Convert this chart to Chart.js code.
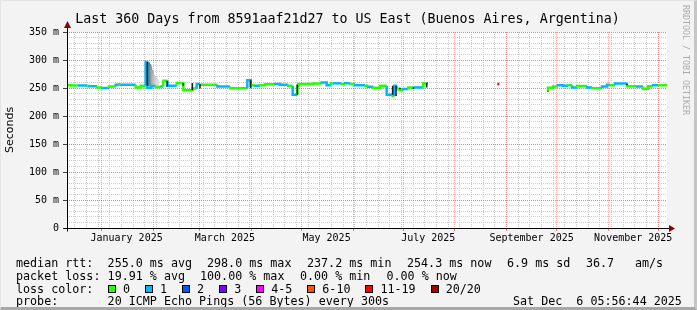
<!DOCTYPE html>
<html><head><meta charset="utf-8">
<script src="https://cdn.jsdelivr.net/npm/chart.js@4.4.1/dist/chart.umd.min.js"></script>
<style>
html,body{margin:0;padding:0;background:#f3f3f3;}
#wrap{position:relative;width:697px;height:310px;background:#f3f3f3;overflow:hidden;}
#frame{position:absolute;left:0;top:0;width:697px;height:310px;box-sizing:border-box;border-right:3px solid #c6c6c6;border-bottom:3px solid #a8a8a8;border-left:1px solid #e4e4e4;border-top:1px solid #e4e4e4;pointer-events:none;}
canvas{position:absolute;left:0;top:0;}
.mono{position:absolute;font-family:'DejaVu Sans Mono',monospace;color:#000;white-space:pre;}
#title{left:-1px;top:11px;width:697px;text-align:center;font-size:13.3px;line-height:16px;}
.leg{font-size:11.7px;line-height:14px;}
#rrd{position:absolute;left:681px;top:5px;writing-mode:vertical-rl;font-family:'DejaVu Sans Mono',monospace;font-size:8.3px;line-height:10px;color:#ababab;white-space:pre;}
#lossrow{position:absolute;left:108px;top:282.2px;display:flex;align-items:center;height:14px;font-family:'DejaVu Sans Mono',monospace;font-size:11.7px;line-height:14px;color:#000;white-space:pre;}
.sw{display:inline-block;width:6px;height:6px;border:1px solid #000;margin-right:7px;}
.lb{margin-right:15px;}
</style>
</head>
<body>
<div id="wrap">
<canvas id="c" width="697" height="310"></canvas>
<div id="title" class="mono">Last 360 Days from 8591aaf21d27 to US East (Buenos Aires, Argentina)</div>
<div id="rrd">RRDTOOL / TOBI OETIKER</div>
<div class="mono leg" style="left:16px;top:256.2px">median rtt:</div>
<div class="mono leg" style="left:107.6px;top:256.2px">255.0 ms avg</div>
<div class="mono leg" style="left:207px;top:256.2px">298.0 ms max</div>
<div class="mono leg" style="left:307px;top:256.2px">237.2 ms min</div>
<div class="mono leg" style="left:407px;top:256.2px">254.3 ms now</div>
<div class="mono leg" style="left:507px;top:256.2px">6.9 ms sd</div>
<div class="mono leg" style="left:586px;top:256.2px">36.7</div>
<div class="mono leg" style="left:635px;top:256.2px">am/s</div>
<div class="mono leg" style="left:16px;top:269.2px">packet loss:</div>
<div class="mono leg" style="left:107.6px;top:269.2px">19.91 % avg</div>
<div class="mono leg" style="left:200px;top:269.2px">100.00 % max</div>
<div class="mono leg" style="left:300px;top:269.2px">0.00 % min</div>
<div class="mono leg" style="left:386.5px;top:269.2px">0.00 % now</div>
<div class="mono leg" style="left:16px;top:282.2px">loss color:</div>
<div id="lossrow"></div>
<div class="mono leg" style="left:16px;top:294.4px">probe:</div>
<div class="mono leg" style="left:107.6px;top:294.4px">20 ICMP Echo Pings (56 Bytes) every 300s</div>
<div class="mono leg" style="left:513px;top:294.4px">Sat Dec  6 05:56:44 2025</div>
<div id="frame"></div>
</div>
<script>
// ---- data (x = days since start of the 360-day window, Dec 11 2024 05:56) ----
const monthLabels = ['January 2025','March 2025','May 2025','July 2025','September 2025','November 2025'];
const monthLabelDays = [35.75, 94.75, 155.75, 216.75, 278.75, 339.75];
const monthStartDays = [20.75, 51.75, 79.75, 110.75, 140.75, 171.75, 201.75, 232.75, 263.75, 293.75, 324.75, 354.75];
const firstMondayDay = 4.75;
const yTickValues = [0, 50, 100, 150, 200, 250, 300, 350];
const yTickLabels = ['0', '50 m', '100 m', '150 m', '200 m', '250 m', '300 m', '350 m'];

const lossColors = ['#26ff00', '#00b8ff', '#0059ff', '#7e00ff', '#ff00ff', '#ff5500', '#ff0000', '#a10000'];
const lossLabels = ['0', '1', '2', '3', '4-5', '6-10', '11-19', '20/20'];

// median RTT (ms), step starts
const dayX = [0, 2.6, 6.2, 12.2, 13.2, 18.2, 21.2, 25.2, 29.2, 31.2, 32.2, 41.2, 44.2, 47.2, 48.2, 50.6, 53.2, 56.8, 57.8, 60.2, 60.8, 65.8, 69.8, 75.2, 77.8, 79.8, 90.2, 97.8, 102.8, 108.2, 110.2, 110.8, 112.8, 115.8, 118.8, 124.8, 127.8, 132.8, 135.4, 138.2, 138.8, 147.8, 152.8, 155.8, 158.4, 159.2, 164.8, 166.8, 169.8, 172.8, 176.8, 178.8, 180.8, 183.8, 187.8, 191.8, 195.4, 196.4, 197.4, 198.8, 199.8, 201.8, 204.8, 207.8, 213.8, 215.8, 216.6, 217.2, 258.2, 259.4, 259.8, 288.6, 291.6, 294.6, 297.6, 300.6, 303, 306, 312, 315, 321, 324, 325.8, 328.8, 336, 342, 345.6, 348.6, 351.6, 354.6, 360];
const rttMs = [258, 255, 254.5, 254.5, 254, 253, 251, 250, 252.5, 256, 256.5, 256, 251, 254, 296.5, 250.5, 253.5, 252, 252.5, 263, 254, 254, 259, 246, 249, 257, 256, 252.5, 249.5, 249.5, 264, 254, 255, 254, 255, 256.5, 257, 256, 254, 238, 254, 257, 258, 260, 255, 258.3, 258.3, 257, 258.5, 257, 255, 255, 254, 252.4, 250.6, 254, 238, 235.7, 254, 250.6, 247.6, 246.4, 248, 251, 251, 258.3, 258.3, null, 257, 257, null, 245, 250.5, 252.7, 255, 254, 255, 251, 253.6, 251, 249.4, 252.7, 256, 255, 258, 253, 252.7, 248.8, 253, 255, 255];
const lossIdx = [0, 0, 1, 0, 1, 0, 1, 0, 1, 0, 1, 0, 0, 1, 1, 1, 0, 1, 0, 1, 1, 0, 0, 0, 1, 0, 1, 0, 0, 1, 1, 0, 1, 0, 0, 1, 1, 0, 1, 0, 0, 0, 1, 1, 0, 1, 0, 1, 0, 1, 1, 0, 1, 0, 0, 1, 0, 1, 1, 0, 0, 1, 0, 1, 0, 4, 4, 0, 6, 6, 0, 0, 0, 1, 1, 0, 1, 0, 1, 0, 1, 1, 0, 1, 0, 1, 0, 0, 1, 0, 0];

// dark smoke spikes (ms range)
const spikeDays = [48.2, 60.2, 69.8, 75.2, 79.8, 110.2, 138.2, 195.4, 197.4, 199.8, 207.8, 215.8, 288.6, 336];
const spikeLow  = [254, 252.5, 254, 246, 249, 249.5, 238, 238, 235.7, 247.6, 248, 251, 243.5, 255];
const spikeHigh = [296.5, 263, 259, 259, 257, 264, 256, 254, 254, 250.6, 251, 258.3, 245, 258];

// grey smoke around the January spike
const smokeDays  = [49.2, 49.8, 50.4, 51.0, 51.6, 52.2, 52.8, 53.4, 54.0, 54.6];
const smokeLow   = [254, 254, 252, 252, 252, 252, 253, 253, 253, 253];
const smokeHigh  = [295, 292, 288, 282, 276, 272, 270, 268, 266, 264];
const smokeShade = ['#6a6a6a', '#7e7e7e', '#949494', '#a6a6a6', '#b4b4b4', '#c0c0c0', '#c8c8c8', '#d0d0d0', '#d8d8d8', '#e0e0e0'];

// ---- legend swatches ----
const row = document.getElementById('lossrow');
lossLabels.forEach((l, i) => {
  const s = document.createElement('span'); s.className = 'sw'; s.style.background = lossColors[i]; row.appendChild(s);
  const t = document.createElement('span'); t.className = 'lb'; t.textContent = l; row.appendChild(t);
});

// ---- grid tick lists ----
const weekDays = [];
for (let d = firstMondayDay; d < 360; d += 7) weekDays.push(d);
const yMinor = [];
for (let v = 0; v <= 350; v += 10) yMinor.push(v);

const medianData = dayX.map((d, i) => ({x: d, y: rttMs[i]}));
const spikeData = [];
spikeDays.forEach((d, i) => { spikeData.push({x: d, y: spikeLow[i]}, {x: d, y: spikeHigh[i]}, {x: d, y: null}); });
const smokeData = smokeDays.map((d, i) => ({x: d, y: [smokeLow[i], smokeHigh[i]]}));

const frame = {
  id: 'frame',
  beforeDraw(chart) {
    const {ctx, chartArea: a} = chart;
    ctx.save(); ctx.fillStyle = '#ffffff';
    ctx.fillRect(a.left, a.top, a.right - a.left, a.bottom - a.top);
    ctx.restore();
  },
  afterDraw(chart) {
    const {ctx, chartArea: a} = chart;
    const y0 = Math.round(chart.scales.y.getPixelForValue(0)) + 0.5;
    const x0 = Math.round(chart.scales.x.getPixelForValue(0)) + 0.5;
    ctx.save();
    ctx.strokeStyle = '#000'; ctx.lineWidth = 1;
    ctx.beginPath(); ctx.moveTo(x0 - 4, y0); ctx.lineTo(a.right + 3, y0); ctx.stroke();
    ctx.beginPath(); ctx.moveTo(x0, y0 + 3); ctx.lineTo(x0, a.top - 5); ctx.stroke();
    ctx.fillStyle = '#8b0000';
    ctx.beginPath(); ctx.moveTo(a.right + 2, y0 - 3.5); ctx.lineTo(a.right + 8, y0); ctx.lineTo(a.right + 2, y0 + 3.5); ctx.closePath(); ctx.fill();
    ctx.beginPath(); ctx.moveTo(x0 - 3.5, a.top - 4); ctx.lineTo(x0, a.top - 11); ctx.lineTo(x0 + 3.5, a.top - 4); ctx.closePath(); ctx.fill();
    ctx.restore();
  }
};

Chart.defaults.font.family = "'DejaVu Sans Mono', monospace";
Chart.defaults.color = '#000';

const minorGrid = '#cdcdcd';
const majorGrid = 'rgba(255,0,0,0.32)';

new Chart(document.getElementById('c'), {
  type: 'line',
  data: {
    datasets: [
      {type: 'line', label: 'smoke spikes', data: spikeData, borderColor: '#1e1e1e', borderWidth: 1.6, pointRadius: 0, spanGaps: false, order: 0, xAxisID: 'x', yAxisID: 'y'},
      {type: 'line', label: 'median rtt', data: medianData, stepped: 'after', borderWidth: 2.5, pointRadius: 0, spanGaps: false, order: 1,
        borderColor: lossColors[0], borderCapStyle: 'butt',
        segment: {borderColor: c => lossColors[lossIdx[c.p0DataIndex]]}, xAxisID: 'x', yAxisID: 'y'},
      {type: 'bar', label: 'smoke', data: smokeData, backgroundColor: smokeShade, barThickness: 1.7, grouped: false, order: 2, xAxisID: 'x', yAxisID: 'y'}
    ]
  },
  options: {
    responsive: false, animation: false, events: [],
    layout: {padding: {left: 0, right: 30, top: 32, bottom: 62}},
    plugins: {legend: {display: false}, tooltip: {enabled: false}},
    scales: {
      xg: {type: 'linear', position: 'bottom', weight: -2, min: 0, max: 360, offset: false,
        afterBuildTicks: s => { s.ticks = weekDays.map(v => ({value: v})); },
        afterFit: s => { s.height = 0; },
        ticks: {display: false}, border: {display: false, dash: [1, 1]},
        grid: {color: minorGrid, drawTicks: false, offset: false}},
      yg: {type: 'linear', position: 'left', weight: -1, min: 0, max: 350,
        afterBuildTicks: s => { s.ticks = yMinor.map(v => ({value: v})); },
        afterFit: s => { s.width = 0; },
        ticks: {display: false}, border: {display: false, dash: [1, 1]},
        grid: {color: minorGrid, drawTicks: false}},
      xM: {type: 'linear', position: 'bottom', weight: -1, min: 0, max: 360, offset: false,
        afterBuildTicks: s => { s.ticks = monthStartDays.map(v => ({value: v})); },
        afterFit: s => { s.height = 0; },
        ticks: {display: false}, border: {display: false, dash: [1, 1]},
        grid: {color: majorGrid, drawTicks: true, tickLength: 3, tickColor: '#e08080', offset: false}},
      y: {type: 'linear', position: 'left', min: 0, max: 350,
        afterBuildTicks: s => { s.ticks = yTickValues.map(v => ({value: v})); },
        afterFit: s => { s.width = 67; },
        ticks: {font: {size: 10}, color: '#000', padding: 4, callback: (v, i) => yTickLabels[i]},
        border: {display: false, dash: [1, 1]},
        grid: {color: majorGrid, tickColor: '#444', tickLength: 4},
        title: {display: true, text: 'Seconds', font: {family: "'DejaVu Sans', sans-serif", size: 11}, color: '#000', padding: {top: 4, bottom: 4}}},
      x: {type: 'linear', position: 'bottom', min: 0, max: 360, offset: false,
        afterBuildTicks: s => { s.ticks = monthLabelDays.map(v => ({value: v})); },
        afterFit: s => { s.height = 20; },
        ticks: {font: {size: 10}, color: '#000', padding: 4, autoSkip: false, maxRotation: 0, minRotation: 0,
          callback: (v, i) => monthLabels[i]},
        border: {display: false},
        grid: {display: false, drawTicks: false, offset: false}}
    }
  },
  plugins: [frame]
});
</script>
</body></html>
